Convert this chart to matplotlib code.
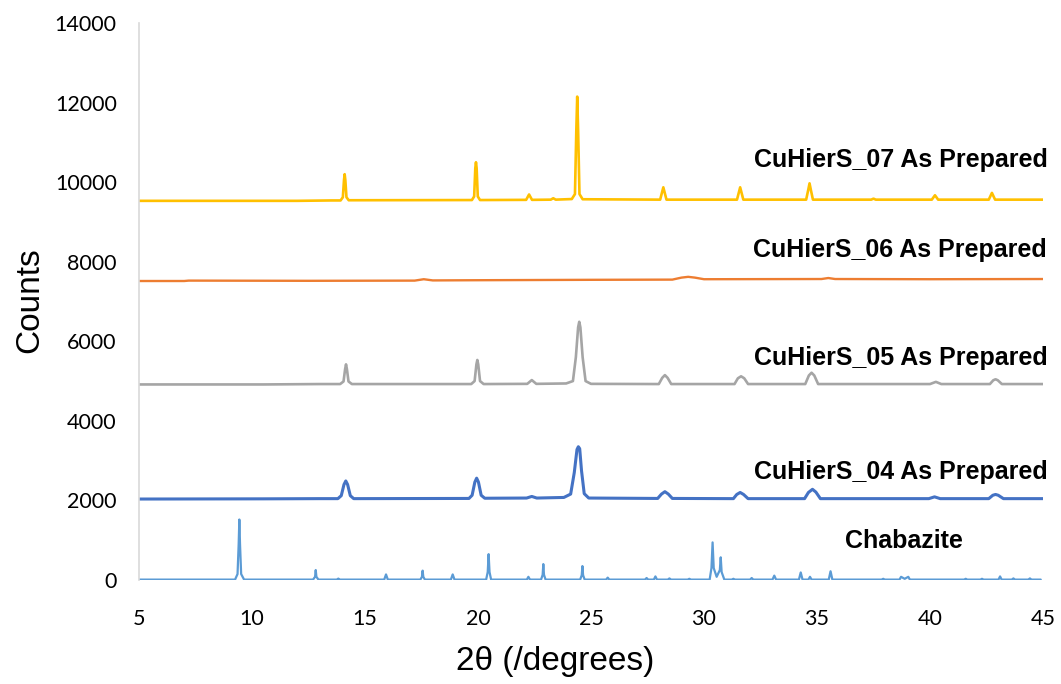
import matplotlib
matplotlib.use("Agg")
import matplotlib.pyplot as plt

# ---------------------------------------------------------------------------
# Powder XRD patterns (2theta in degrees, intensity in counts), traced as
# vertex lists; each pattern is offset vertically for display.
# ---------------------------------------------------------------------------

chabazite_2theta = [
    5.0, 9.25, 9.36, 9.41, 9.44, 9.47, 9.52, 9.65,
    12.70, 12.79, 12.82, 12.85, 12.94,
    13.75, 13.82, 13.89,
    15.85, 15.93, 16.01,
    17.45, 17.52, 17.55, 17.58, 17.65,
    18.80, 18.88, 18.96,
    20.36, 20.43, 20.47, 20.51, 20.58,
    22.16, 22.23, 22.30,
    22.79, 22.86, 22.89, 22.92, 22.99,
    24.52, 24.59, 24.62, 24.65, 24.72,
    25.67, 25.74, 25.81,
    27.39, 27.46, 27.53, 27.78, 27.85, 27.92,
    28.40, 28.47, 28.54,
    29.28, 29.35, 29.42,
    30.25, 30.33, 30.38, 30.43, 30.56, 30.70, 30.74, 30.78, 30.90,
    31.23, 31.30, 31.37,
    32.04, 32.11, 32.18,
    33.03, 33.11, 33.19,
    34.20, 34.28, 34.36, 34.62, 34.69, 34.76,
    35.52, 35.60, 35.68,
    37.86, 37.93, 38.00,
    38.65, 38.72, 38.88, 39.04, 39.11,
    41.51, 41.58, 41.65,
    42.23, 42.30, 42.37,
    43.03, 43.10, 43.17,
    43.62, 43.69, 43.76,
    44.35, 44.42, 44.49, 44.90,
]
chabazite_counts = [
    10, 10, 150, 900, 1520, 900, 150, 10,
    10, 80, 250, 80, 10,
    10, 35, 10,
    10, 140, 10,
    10, 80, 235, 80, 10,
    10, 140, 10,
    10, 200, 650, 200, 10,
    10, 80, 10,
    10, 130, 400, 130, 10,
    10, 120, 350, 120, 10,
    10, 60, 10,
    10, 50, 10, 10, 90, 10,
    10, 40, 10,
    10, 30, 10,
    10, 300, 945, 300, 80, 250, 570, 200, 10,
    10, 30, 10,
    10, 50, 10,
    10, 110, 10,
    10, 190, 10, 10, 80, 10,
    10, 220, 10,
    10, 30, 10,
    10, 80, 30, 80, 10,
    10, 30, 10,
    10, 30, 10,
    10, 90, 10,
    10, 40, 10,
    10, 40, 10, 10,
]

cuhiers04_2theta = [
    5.0, 10.5, 13.0,
    13.80, 13.95, 14.07, 14.15, 14.23, 14.35, 14.50,
    19.60, 19.74, 19.86, 19.94, 20.02, 20.14, 20.30,
    22.15, 22.38, 22.60,
    23.80, 24.10, 24.26, 24.38, 24.44, 24.50, 24.58, 24.70, 24.90,
    27.95, 28.12, 28.27, 28.42, 28.60,
    31.30, 31.45, 31.60, 31.75, 31.95,
    34.45, 34.62, 34.80, 34.95, 35.15,
    39.95, 40.20, 40.45,
    42.60, 42.78, 42.90, 43.02, 43.25,
    45.0,
]
cuhiers04_counts = [
    2035, 2040, 2045,
    2045, 2120, 2400, 2490, 2400, 2120, 2045,
    2050, 2130, 2460, 2560, 2460, 2130, 2055,
    2060, 2100, 2060,
    2075, 2160, 2700, 3280, 3350, 3300, 2750, 2170, 2060,
    2050, 2160, 2220, 2160, 2050,
    2045, 2150, 2200, 2150, 2045,
    2045, 2200, 2280, 2210, 2045,
    2045, 2090, 2045,
    2045, 2130, 2150, 2130, 2045,
    2045,
]

cuhiers05_2theta = [
    5.0, 10.5, 13.0,
    13.90, 14.05, 14.12, 14.16, 14.20, 14.27, 14.42,
    19.70, 19.85, 19.93, 19.97, 20.01, 20.09, 20.25,
    22.18, 22.38, 22.58,
    23.90, 24.20, 24.33, 24.43, 24.48, 24.53, 24.63, 24.76, 25.00,
    28.00, 28.15, 28.27, 28.39, 28.55,
    31.35, 31.50, 31.64, 31.78, 31.95,
    34.48, 34.64, 34.76, 34.88, 35.05,
    40.00, 40.26, 40.50,
    42.65, 42.80, 42.90, 43.00, 43.18,
    45.0,
]
cuhiers05_counts = [
    4915, 4915, 4925,
    4925, 4990, 5300, 5420, 5300, 4990, 4925,
    4925, 5000, 5420, 5530, 5420, 5000, 4925,
    4930, 5025, 4930,
    4940, 5000, 5600, 6350, 6490, 6350, 5600, 5000, 4930,
    4925, 5080, 5150, 5080, 4925,
    4925, 5070, 5120, 5070, 4925,
    4925, 5140, 5210, 5140, 4925,
    4925, 4980, 4925,
    4925, 5020, 5045, 5020, 4925,
    4925,
]

cuhiers06_2theta = [
    5.0, 7.0, 7.2, 12.5, 17.2, 17.6, 18.0, 20.0, 25.0,
    28.6, 29.0, 29.3, 29.6, 30.0, 35.2, 35.5, 35.8, 40.0, 45.0,
]
cuhiers06_counts = [
    7515, 7515, 7525, 7520, 7525, 7560, 7530, 7535, 7545,
    7550, 7600, 7620, 7600, 7560, 7565, 7590, 7565, 7560, 7565,
]

cuhiers07_2theta = [
    5.0, 12.0, 13.5,
    13.92, 14.02, 14.07, 14.10, 14.13, 14.18, 14.28,
    19.73, 19.83, 19.88, 19.91, 19.94, 19.99, 20.09,
    22.13, 22.26, 22.39,
    23.22, 23.33, 23.44,
    24.15, 24.29, 24.35, 24.39, 24.43, 24.49, 24.63,
    28.06, 28.20, 28.34,
    31.46, 31.60, 31.74,
    34.52, 34.61, 34.67, 34.73, 34.82,
    37.40, 37.50, 37.60,
    40.08, 40.22, 40.36,
    42.60, 42.74, 42.88,
    45.0,
]
cuhiers07_counts = [
    9530, 9530, 9540,
    9540, 9620, 10050, 10200, 10050, 9620, 9545,
    9550, 9640, 10350, 10500, 10350, 9640, 9550,
    9555, 9690, 9555,
    9560, 9595, 9560,
    9575, 9700, 11300, 12150, 11300, 9700, 9570,
    9560, 9870, 9560,
    9560, 9870, 9560,
    9560, 9800, 9970, 9800, 9560,
    9560, 9585, 9560,
    9560, 9670, 9560,
    9560, 9730, 9560,
    9560,
]

series_names = [
    "Chabazite",
    "CuHierS_04 As Prepared",
    "CuHierS_05 As Prepared",
    "CuHierS_06 As Prepared",
    "CuHierS_07 As Prepared",
]
series_x = [chabazite_2theta, cuhiers04_2theta, cuhiers05_2theta,
            cuhiers06_2theta, cuhiers07_2theta]
series_y = [chabazite_counts, cuhiers04_counts, cuhiers05_counts,
            cuhiers06_counts, cuhiers07_counts]

x_ticks = [5, 10, 15, 20, 25, 30, 35, 40, 45]
y_ticks = [0, 2000, 4000, 6000, 8000, 10000, 12000, 14000]

# ---------------------------------------------------------------------------
# Styling
# ---------------------------------------------------------------------------
colors = ["#5B9BD5", "#4472C4", "#A5A5A5", "#ED7D31", "#FFC000"]
widths = [1.6, 2.2, 1.9, 1.7, 1.9]

# label anchor (x, y, horizontal alignment) in data coordinates
label_pos = [
    (36.24, 800, "left"),
    (45.22, 2540, "right"),
    (45.22, 5400, "right"),
    (45.17, 8120, "right"),
    (45.22, 10380, "right"),
]

fig = plt.figure(figsize=(10.61, 6.84), dpi=100)
ax = fig.add_axes([139 / 1061, 1 - 580 / 684, 904 / 1061, 557 / 684])

for xs, ys, c, lw in zip(series_x, series_y, colors, widths):
    ax.plot(xs, ys, color=c, lw=lw, solid_joinstyle="round",
            solid_capstyle="round")

for name, (lx, ly, ha) in zip(series_names, label_pos):
    ax.text(lx, ly, name, ha=ha, va="baseline", fontsize=18,
            fontweight="bold", family="Liberation Sans", color="black",
            clip_on=False)

ax.set_xlim(5, 45)
ax.set_ylim(0, 14000)
ax.set_xticks(x_ticks)
ax.set_yticks(y_ticks)
ax.set_xticklabels([str(v) for v in x_ticks], family="Lato", fontsize=15.5)
ax.set_yticklabels([str(v) for v in y_ticks], family="Lato", fontsize=15.5)
ax.tick_params(axis="x", length=0, pad=21)
ax.tick_params(axis="y", length=0, pad=16)

for side in ("top", "right", "bottom"):
    ax.spines[side].set_visible(False)
ax.spines["left"].set_color("#D9D9D9")
ax.spines["left"].set_linewidth(1.2)

ax.set_xlabel("2θ (/degrees)", family="Liberation Sans", fontsize=24)
ax.xaxis.set_label_coords(0.46, -0.147)
ax.xaxis.label.set_va("center")
ax.set_ylabel("Counts", family="Liberation Sans", fontsize=24)
ax.yaxis.set_label_coords(-0.1206, 0.503)
ax.yaxis.label.set_va("center")

fig.savefig("out.png", dpi=100)
